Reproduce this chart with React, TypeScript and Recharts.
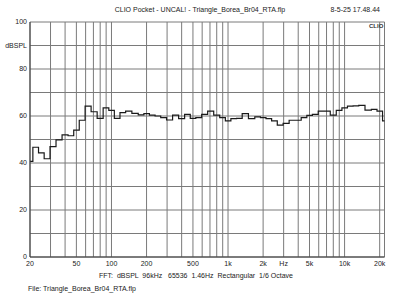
import React from 'react';
import { LineChart, Line, XAxis, YAxis, CartesianGrid } from 'recharts';

const FREQS = [20, 22.4, 25, 28, 31.5, 35.5, 40, 45, 50, 56, 63, 71, 80, 90, 100, 112, 125, 140, 160, 180, 200, 224, 250, 280, 315, 355, 400, 450, 500, 560, 630, 710, 800, 900, 1000, 1120, 1250, 1400, 1600, 1800, 2000, 2240, 2500, 2800, 3150, 3550, 4000, 4500, 5000, 5600, 6300, 7100, 8000, 9000, 10000, 11200, 12500, 14000, 16000, 18000, 20000, 22400];
const LEVELS = [40.7, 46.7, 44.3, 41.8, 47, 49.8, 52, 51.6, 54, 58.2, 64.2, 61.8, 59, 63.5, 62.4, 59, 61.4, 62.1, 61.1, 60.5, 61, 60.4, 60, 59.3, 58.3, 60.4, 58.9, 60.7, 59, 59.3, 60.7, 62.1, 60.4, 59.3, 57.9, 58.9, 59, 61, 58.9, 59.6, 59.3, 58.9, 57.9, 56.1, 56.9, 58.2, 58.2, 59.3, 60.3, 60.7, 62.1, 62.1, 60.4, 62.4, 63.5, 64.2, 64.3, 64.5, 62.5, 62.8, 62.1, 57.9];

const X_GRID = [20, 30, 40, 50, 60, 70, 80, 90, 100, 200, 300, 400, 500, 600, 700, 800, 900, 1000, 2000, 3000, 4000, 5000, 6000, 7000, 8000, 9000, 10000, 20000];
const X_LABELS: Record<number, string> = { 20: '20', 50: '50', 100: '100', 200: '200', 500: '500', 1000: '1k', 2000: '2k', 3000: 'Hz', 5000: '5k', 10000: '10k', 20000: '20k' };
const Y_GRID = [0, 10, 20, 30, 40, 50, 60, 70, 80, 90, 100];
const Y_LABELS: Record<number, string> = { 0: '0', 20: '20', 40: '40', 60: '60', 80: '80', 90: 'dBSPL', 100: '100' };
const Y_MINOR = Array.from({ length: 51 }, (_, i) => i * 2);
const X_DOMAIN = [20, 22000];

const TITLE = 'CLIO Pocket - UNCAL! - Triangle_Borea_Br04_RTA.flp';
const DATE = '8-5-25 17.48.44';
const FFT = 'FFT:  dBSPL  96kHz   65536  1.46Hz  Rectangular  1/6 Octave';
const FILE = 'File: Triangle_Borea_Br04_RTA.flp';

const data = FREQS.map((f, i) => ({ f, db: LEVELS[i] }));

const FONT = '"Liberation Sans", Arial, sans-serif';
const BORDER = '#3a3a3a';
const GRID = '#7a7a7a';

export default function App() {
  const txt: React.CSSProperties = { position: 'absolute', fontFamily: FONT, fontSize: 7, color: '#222', whiteSpace: 'pre', lineHeight: '8px' };
  return (
    <div style={{ position: 'absolute', left: 0, top: 0, width: 400, height: 300, background: '#fff' }}>
      <LineChart width={400} height={300} data={data} margin={{ top: 22, right: 15.5, bottom: 23, left: 0 }}>
        <CartesianGrid stroke={GRID} strokeWidth={1} />
        <XAxis
          dataKey="f"
          type="number"
          scale="log"
          domain={X_DOMAIN}
          allowDataOverflow
          ticks={X_GRID}
          interval={0}
          tickFormatter={(v: number) => X_LABELS[v] ?? ''}
          tickLine={false}
          tickSize={0}
          tickMargin={4}
          height={20}
          axisLine={{ stroke: BORDER }}
          tick={{ fontSize: 7, fill: '#222', fontFamily: FONT }}
        />
        <XAxis
          xAxisId="top"
          orientation="top"
          dataKey="f"
          type="number"
          scale="log"
          domain={X_DOMAIN}
          allowDataOverflow
          height={0}
          tick={false}
          tickLine={false}
          axisLine={{ stroke: BORDER }}
        />
        <YAxis
          type="number"
          domain={[0, 100]}
          ticks={Y_GRID}
          interval={0}
          width={30}
          tickFormatter={(v: number) => Y_LABELS[v] ?? ''}
          tickLine={false}
          tickSize={0}
          tickMargin={3}
          axisLine={{ stroke: BORDER }}
          tick={{ fontSize: 7, fill: '#222', fontFamily: FONT }}
        />
        <YAxis
          yAxisId="minorL"
          orientation="left"
          mirror
          width={0}
          type="number"
          domain={[0, 100]}
          ticks={Y_MINOR}
          interval={0}
          tick={false}
          tickSize={2.5}
          tickLine={{ stroke: '#888' }}
          axisLine={false}
        />
        <YAxis
          yAxisId="minorR"
          orientation="right"
          mirror
          width={0}
          type="number"
          domain={[0, 100]}
          ticks={Y_MINOR}
          interval={0}
          tick={false}
          tickSize={2.5}
          tickLine={{ stroke: '#888' }}
          axisLine={{ stroke: BORDER }}
        />
        <Line
          type="step"
          dataKey="db"
          stroke="#1a1a1a"
          strokeWidth={1.2}
          dot={false}
          isAnimationActive={false}
        />
      </LineChart>
      <div style={{ ...txt, left: 0, width: 400, top: 6, textAlign: 'center' }}>{TITLE}</div>
      <div style={{ ...txt, right: 20, top: 6 }}>{DATE}</div>
      <div style={{ ...txt, left: 0, width: 392, top: 272, textAlign: 'center' }}>{FFT}</div>
      <div style={{ ...txt, left: 28, top: 285 }}>{FILE}</div>
      <div style={{ ...txt, left: 369, top: 23, fontSize: 6, fontWeight: 'bold', lineHeight: '7px', color: '#333' }}>CLIO</div>
    </div>
  );
}
